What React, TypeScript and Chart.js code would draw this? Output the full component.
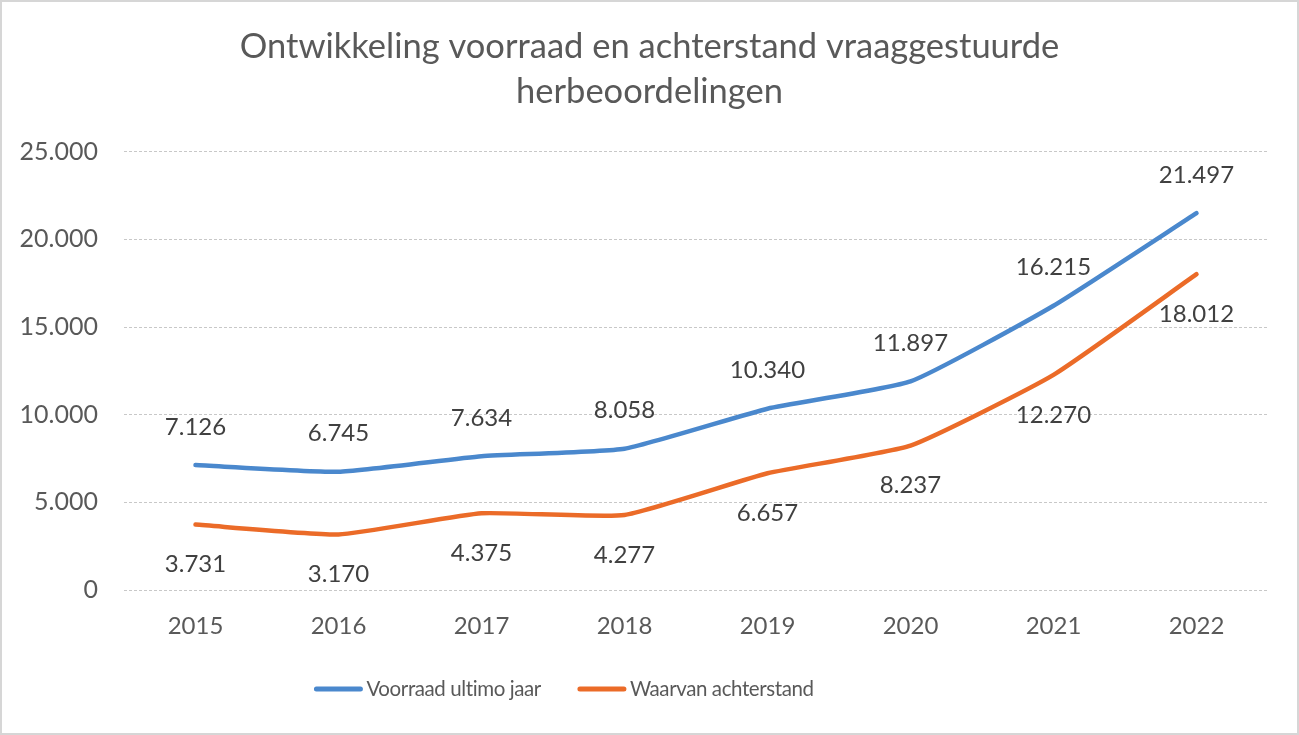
import React, { useEffect, useRef } from "react";
import { Chart, registerables } from "chart.js";

Chart.register(...registerables);

const years = ["2015", "2016", "2017", "2018", "2019", "2020", "2021", "2022"];
const voorraad = [7126, 6745, 7634, 8058, 10340, 11897, 16215, 21497];
const achterstand = [3731, 3170, 4375, 4277, 6657, 8237, 12270, 18012];
const titleLines = ["Ontwikkeling voorraad en achterstand vraaggestuurde", "herbeoordelingen"];
const seriesNames = ["Voorraad ultimo jaar", "Waarvan achterstand"];

const BLUE = "#4A88CD";
const ORANGE = "#EB6B28";
const TEXT = "#595959";
const FONT = "Lato, 'Open Sans', sans-serif";

const fmt = (v: number) => String(Math.round(v)).replace(/\B(?=(\d{3})+(?!\d))/g, ".");

const labelPlugin = {
  id: "valueLabels",
  afterDatasetsDraw(chart: any) {
    const ctx = chart.ctx;
    ctx.save();
    ctx.font = `24px ${FONT}`;
    ctx.fillStyle = "#404040";
    ctx.textAlign = "center";
    ctx.textBaseline = "middle";
    chart.data.datasets.forEach((ds: any, i: number) => {
      const meta = chart.getDatasetMeta(i);
      meta.data.forEach((pt: any, j: number) => {
        const off = i === 0 ? -38 : 40;
        ctx.fillText(fmt(ds.data[j]), pt.x, pt.y + off);
      });
    });
    ctx.restore();
  },
};

const legendPlugin = {
  id: "customLegend",
  afterDraw(chart: any) {
    const ctx = chart.ctx;
    ctx.save();
    ctx.font = `20.5px ${FONT}`;
    try {
      (ctx as any).letterSpacing = "-0.4px";
    } catch (e) {}
    ctx.textBaseline = "middle";
    const lineW = 48;
    const gapText = 4;
    const gapItem = 37;
    const items = chart.data.datasets.map((ds: any) => ({
      text: ds.label,
      color: ds.borderColor,
      w: lineW + gapText + ctx.measureText(ds.label).width,
    }));
    const total = items.reduce((a: number, it: any) => a + it.w, 0) + gapItem * (items.length - 1);
    const centerX = 562;
    const y = 687;
    let x = centerX - total / 2;
    items.forEach((it: any) => {
      ctx.strokeStyle = it.color;
      ctx.lineWidth = 5;
      ctx.lineCap = "round";
      ctx.beginPath();
      ctx.moveTo(x + 2, y);
      ctx.lineTo(x + lineW - 2, y);
      ctx.stroke();
      ctx.fillStyle = TEXT;
      ctx.textAlign = "left";
      ctx.fillText(it.text, x + lineW + gapText, y);
      x += it.w + gapItem;
    });
    ctx.restore();
  },
};

export default function App() {
  const ref = useRef<HTMLCanvasElement>(null);
  useEffect(() => {
    document.body.style.margin = "0";
    const chart = new Chart(ref.current!, {
      type: "line",
      data: {
        labels: years,
        datasets: [
          {
            label: seriesNames[0],
            data: voorraad,
            borderColor: BLUE,
            backgroundColor: BLUE,
            borderWidth: 4.5,
            pointRadius: 0,
            tension: 0.15,
            borderCapStyle: "round",
          },
          {
            label: seriesNames[1],
            data: achterstand,
            borderColor: ORANGE,
            backgroundColor: ORANGE,
            borderWidth: 4.5,
            pointRadius: 0,
            tension: 0.15,
            borderCapStyle: "round",
          },
        ],
      },
      options: {
        animation: false,
        responsive: false,
        layout: { padding: { left: 0, right: 0, top: 0, bottom: 73 } },
        plugins: {
          title: {
            display: true,
            text: titleLines,
            color: TEXT,
            font: { family: FONT, size: 34.5, weight: "normal", lineHeight: 1.3 },
            padding: { top: 22.5, bottom: 37.5 },
          },
          legend: { display: false },
          tooltip: { enabled: false },
        },
        scales: {
          x: {
            offset: true,
            grid: { display: false },
            border: { display: false },
            ticks: { color: TEXT, font: { family: FONT, size: 24 }, padding: 14 },
            afterFit: (s: any) => {
              s.height = 70;
            },
          },
          y: {
            min: 0,
            max: 25000,
            ticks: {
              stepSize: 5000,
              color: TEXT,
              font: { family: FONT, size: 25 },
              padding: 26,
              callback: (v: any) => fmt(Number(v)),
            },
            grid: { color: "#c8c8c8", lineWidth: 1, drawTicks: false },
            border: { display: false, dash: [3, 2] },
            afterFit: (s: any) => {
              s.width = 122;
            },
          },
          spacer: {
            type: "linear",
            position: "right",
            display: true,
            min: 0,
            max: 1,
            grid: { display: false, drawTicks: false },
            border: { display: false },
            ticks: { display: false },
            afterFit: (s: any) => {
              s.width = 29;
            },
          },
        },
      },
      plugins: [labelPlugin, legendPlugin],
    });
    return () => chart.destroy();
  }, []);
  return (
    <div
      style={{
        width: 1299,
        height: 735,
        boxSizing: "border-box",
        border: "2px solid #d6d6d6",
        background: "#fff",
        position: "relative",
        overflow: "hidden",
      }}
    >
      <canvas ref={ref} width={1295} height={731} style={{ display: "block" }} />
    </div>
  );
}
